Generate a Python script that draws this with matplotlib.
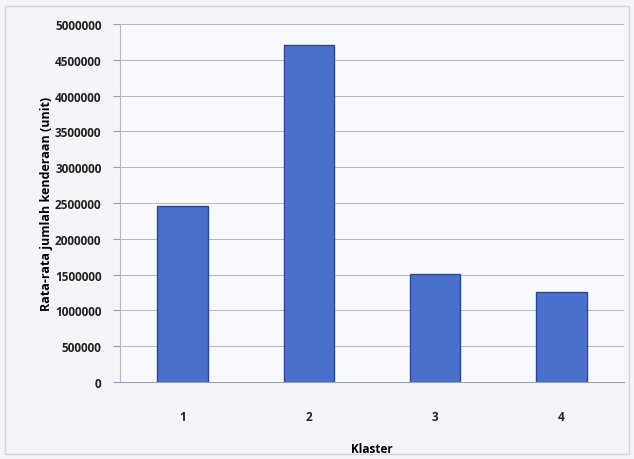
import matplotlib.pyplot as plt
from matplotlib.patches import Rectangle

klaster = ["1", "2", "3", "4"]
rata_rata = [2460000, 4700000, 1510000, 1250000]
y_ticks = [0, 500000, 1000000, 1500000, 2000000, 2500000,
           3000000, 3500000, 4000000, 4500000, 5000000]

plt.rcParams['font.family'] = ['Open Sans', 'DejaVu Sans']

fig = plt.figure(figsize=(6.34, 4.6), dpi=100)
fig.patch.set_facecolor('#f3f5f9')
ax = fig.add_axes([0.1885, 0.1674, 0.7965, 0.7783])
ax.set_facecolor('#f8f9fc')

# bingkai grafik
fig.patches.append(Rectangle((0.008, 0.01), 0.984, 0.975, transform=fig.transFigure,
                             fill=False, edgecolor='#d2d6de', linewidth=1))

x = range(len(klaster))
ax.bar(x, rata_rata, width=0.4, color='#4b70cc', edgecolor='#2a4796', linewidth=1.0, zorder=3)

ax.set_xlim(-0.5, len(klaster) - 0.5)
ax.set_ylim(0, 5000000)
ax.set_yticks(y_ticks)
ax.set_yticklabels([str(v) for v in y_ticks], fontsize=8.5, fontweight='bold', color='#222222')
ax.set_xticks(list(x))
ax.set_xticklabels(klaster, fontsize=8.5, fontweight='bold', color='#222222')
ax.tick_params(axis='x', length=0, pad=20)
ax.tick_params(axis='y', length=5, color='#9aa0ac', pad=8)

ax.grid(axis='y', color='#b3b8c2', linewidth=0.7, zorder=0)
for side in ['top', 'right']:
    ax.spines[side].set_visible(False)
ax.spines['left'].set_color('#b5bac4')
ax.spines['bottom'].set_color('#9aa0ac')

ax.set_xlabel("Klaster", fontsize=8.5, fontweight='bold', labelpad=14)
ax.set_ylabel("Rata-rata jumlah kenderaan (unit)", fontsize=9, fontweight='bold', labelpad=1)

fig.savefig("out.png", dpi=100, facecolor=fig.get_facecolor())
